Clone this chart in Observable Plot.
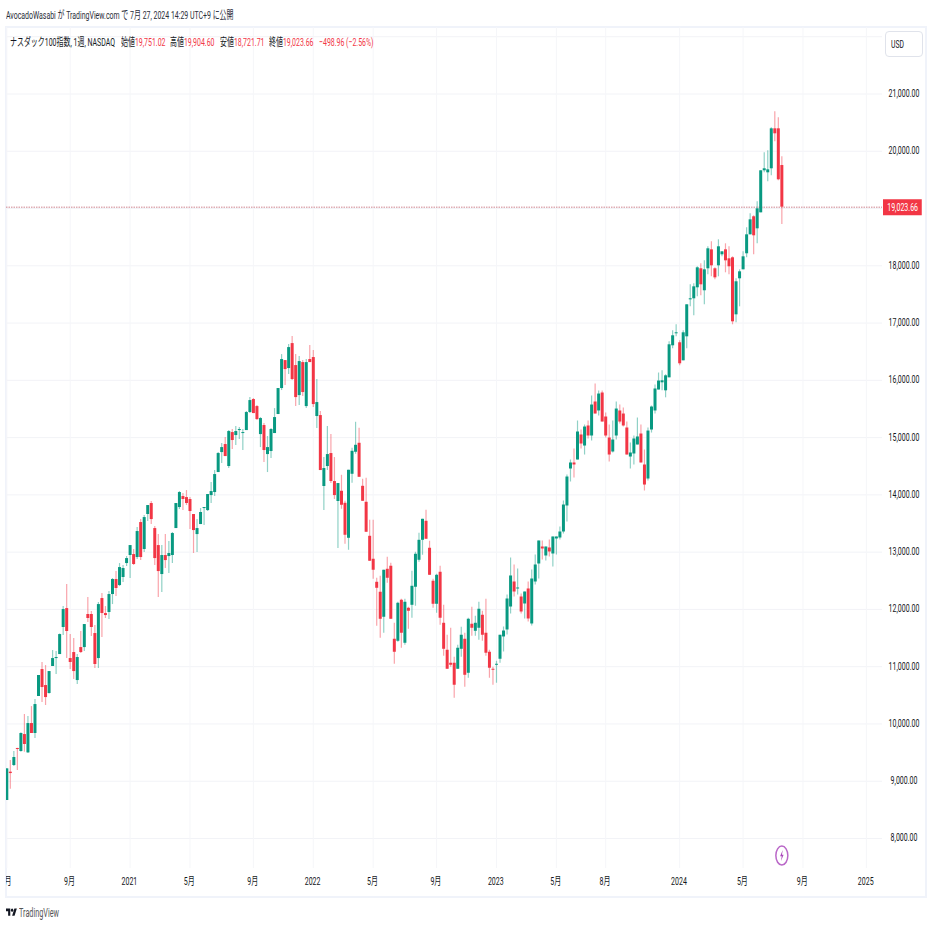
<!DOCTYPE html>
<html lang="ja">
<head>
<meta charset="utf-8">
<script src="https://cdn.jsdelivr.net/npm/d3@7"></script>
<script src="https://cdn.jsdelivr.net/npm/@observablehq/plot@0.6"></script>
<style>
html,body{margin:0;padding:0;background:#fff;width:931px;height:931px;overflow:hidden}
body{position:relative;font-family:Roboto,"Noto Sans CJK JP",sans-serif;color:#131722}
.t{position:absolute;white-space:nowrap;font-family:Roboto,"Noto Sans CJK JP",sans-serif;font-size:11.5px;line-height:14px;transform-origin:0 50%;transform:scaleX(.605)}
#frame{position:absolute;left:5px;top:26px;width:918px;height:868px;border:2px solid #f0f3fa}
#chart{position:absolute;left:6px;top:27px}
#chart svg{display:block;background:transparent}
#usd{position:absolute;left:885px;top:31px;width:36px;height:24px;border:1px solid #e0e3eb;border-radius:4px;background:#fff;font:11px/25px Roboto,sans-serif;color:#131722}
#usd span{display:inline-block;margin-left:5px;transform-origin:0 50%;transform:scaleX(.62)}
.r{color:#f23645}
</style>
</head>
<body>
<div class="t" style="left:6px;top:8px;color:#2a2e39">AvocadoWasabi が TradingView.com で 7月 27, 2024 14:29 UTC+9 に公開</div>
<div id="frame"></div>
<div id="chart"></div>
<div id="usd"><span>USD</span></div>
<div class="t" style="left:10px;top:35px">ナスダック100指数, 1週, NASDAQ</div>
<div class="t" style="left:121px;top:35px">始値<span class="r">19,751.02</span></div>
<div class="t" style="left:170px;top:35px">高値<span class="r">19,904.60</span></div>
<div class="t" style="left:220px;top:35px">安値<span class="r">18,721.71</span></div>
<div class="t" style="left:269px;top:35px">終値<span class="r">19,023.66</span></div>
<div class="t r" style="left:319px;top:35px">−498.96 (−2.56%)</div>
<svg style="position:absolute;left:6px;top:907px" width="11" height="11" viewBox="0 0 36 28" preserveAspectRatio="none"><path d="M14 22H7V11H0V4h14v18zM28 22h-8l7.5-18h8L28 22z" fill="#131722"/><circle cx="20" cy="8" r="4" fill="#131722"/></svg>
<div class="t" style="left:19px;top:906px;color:#555;font-size:12px">TradingView</div>
<script>
const firstWeek = new Date(Date.UTC(2020, 4, 4));
const opens = [
8663,9158,9274,9571,9519,9815,9495,10007,9833,10479,
10950,10671,10531,11003,11142,11212,11684,12015,11142,11247,
10758,11334,11334,11911,11911,11579,11142,12190,11928,11946,
12260,12522,12417,12557,12801,12941,12958,12906,13517,13046,
13657,13849,13412,13115,12609,12941,12923,12941,13412,13779,
13971,13953,13919,13657,13307,13482,13761,13726,13988,14041,
14390,14739,14879,14495,15088,15036,15123,15071,15123,15438,
15665,15542,15053,15211,14704,14757,15071,15403,15857,16345,
16206,16642,16258,15734,16310,15542,16363,16398,15368,15385,
14146,14495,14722,14233,13884,14063,13853,13242,14360,14744,
14901,14150,13871,13277,12876,12474,12300,11863,12701,12754,
11479,11444,12160,11409,12020,12072,12387,12858,13207,13539,
13068,12492,12090,12649,11758,11287,11060,11060,10955,11304,
11479,10885,11741,11618,11671,11898,11584,11252,10955,11025,
11130,11519,11641,12042,12479,12357,12217,12095,12357,11746,
12479,12793,13090,12933,13073,12968,13230,13247,13352,13806,
14452,14557,14609,15046,14853,15203,15028,15622,15465,15779,
15360,14993,14749,15028,15465,15412,15168,14661,14714,14871,
15063,14522,14277,15133,15465,15831,15957,15817,16044,16603,
16813,16656,16341,16760,17406,17424,17616,17948,17564,17948,
18279,17948,18000,18192,18279,18122,18140,17144,17773,17930,
18210,18541,18856,18646,18925,19659,19624,19694,20392,20392,19751.02];
const highs = [
9216,9361,9519,9577,9845,10165,10130,10304,10427,10846,
11073,11020,10915,11282,11265,11573,12050,12434,11561,11492,
11212,11614,11736,12207,11963,11719,12120,12277,12050,12312,
12539,12661,12801,12766,12923,13115,13046,13430,13569,13639,
13814,13884,13447,13307,13115,13307,13185,13342,13849,14058,
14023,14076,13953,13657,13569,13761,13779,14006,14215,14425,
14739,14896,15001,15123,15141,15193,15176,15141,15455,15699,
15682,15560,15350,15245,15019,15158,15507,15857,16450,16345,
16625,16765,16450,16415,16345,16363,16607,16520,16014,15455,
14652,15193,15053,14652,14198,14342,13888,14430,14814,15268,
15163,14273,14290,13557,13557,12544,12579,12684,12911,12806,
11758,12125,12177,12177,12038,12666,12998,13330,13574,13731,
13190,12526,12614,12754,12072,11549,11671,11165,11374,11688,
11584,11846,12038,11881,12125,11968,12177,11287,10990,11095,
11549,11693,12252,12898,12776,12706,12269,12304,12479,12688,
12950,13195,13195,13090,13212,13265,13265,13439,13893,14347,
14609,14801,15290,15133,15220,15290,15726,15936,15814,15814,
15430,15220,15290,15622,15569,15517,15273,14906,15028,15342,
15220,14784,15168,15552,15919,16128,16167,16097,16673,16865,
16970,16690,16865,17319,17668,17686,17983,18035,18087,18332,
18419,17965,18454,18244,18384,18332,18157,17773,17930,18244,
18663,18908,18873,19117,19659,19973,20008,20409,20689,20584,19904.60];
const lows = [
8663,8861,9257,9187,9507,9507,9484,9833,9746,10479,
10374,10322,10525,11003,10863,11212,11544,11142,10950,10776,
10688,11230,11265,11771,11526,10968,10968,11509,11841,11823,
12085,12225,12399,12469,12749,12539,12766,12871,12853,12993,
13534,13482,12766,12207,12295,12714,12626,12801,13412,13744,
13726,13814,13395,12976,12993,13482,13465,13709,13849,13971,
14390,14547,14669,14460,14792,14861,14966,14774,15123,15420,
15420,15298,14826,14565,14390,14634,15071,15403,15822,15909,
16101,15996,15542,15560,15717,15507,16310,15525,15158,14425,
13726,14425,14198,13919,13063,13749,13138,13033,14203,14709,
14307,13888,13347,12841,12526,11706,11496,11584,12457,11828,
11042,11427,11322,11374,11653,11846,12055,12823,12946,13225,
12596,12020,11933,11723,11182,10955,10990,10449,10955,11165,
10641,10798,11531,11531,11461,11444,11182,10798,10676,10711,
11060,11257,11554,11920,12217,12252,11920,11833,11780,11711,
12427,12531,12863,12846,12915,12741,12950,13212,13317,13527,
14225,14295,14609,14801,14696,14976,14941,15412,15377,15272,
14993,14574,14731,14958,15238,15185,14696,14452,14522,14871,
14557,14068,14242,15080,15412,15831,15817,15695,16044,16551,
16760,16254,16341,16551,17284,17127,17459,17476,17319,17843,
17808,17756,17808,18157,17878,17843,16970,17005,17284,17930,
18140,18541,18192,18384,18925,19624,19467,19571,20165,19484,18721.71];
const closes = [
9216,9134,9414,9554,9833,9641,10007,9833,10339,10846,
10636,10461,10915,11142,11160,11561,11998,11614,11073,10915,
11160,11247,11736,11841,11684,11038,12085,11928,11893,12260,
12522,12365,12731,12714,12888,13115,12784,13360,12906,13604,
13814,13569,12888,12661,12941,12853,12976,13325,13849,14041,
13919,13849,13709,13377,13412,13692,13779,14006,14058,14355,
14722,14826,14669,15106,14949,15106,15141,15088,15438,15647,
15420,15315,15333,14774,14826,15141,15350,15857,16363,16188,
16572,16014,15699,16328,15787,16310,16310,15577,15612,14425,
14460,14704,14233,13988,14198,13819,13295,14430,14761,14866,
14307,13888,13347,12841,12684,12369,11828,12684,12544,11828,
11252,12107,11584,12125,11968,12404,12963,13207,13574,13225,
12596,12090,12596,11846,11304,10955,11025,10676,11322,11549,
10850,11828,11671,11758,12003,11549,11235,10973,10938,11042,
11549,11623,12182,12584,12304,12374,11955,12304,11833,12531,
12776,13195,13055,13090,13003,13265,13265,13352,13823,14312,
14557,14522,15098,14888,15185,15028,15569,15412,15761,15272,
15028,14696,14958,15499,15272,15203,14696,14731,14976,15011,
14557,14172,15115,15534,15849,15988,15992,16079,16621,16778,
16830,16289,16830,17319,17424,17633,17965,17668,17930,18297,
18000,17790,18332,18244,18087,17983,17022,17721,17895,18157,
18541,18803,18524,18995,19659,19694,19676,20392,20305,19502,19023.66];

const priceTicks = [8000,9000,10000,11000,12000,13000,14000,15000,16000,17000,18000,19000,20000,21000];
const gridPrices = [...priceTicks, 22000];
const timeTickDates = ["2020-05-04","2020-09-07","2021-01-04","2021-05-03","2021-09-06","2022-01-03","2022-05-02","2022-09-05","2023-01-02","2023-05-01","2023-08-07","2024-01-01","2024-05-06","2024-09-02","2025-01-06"].map(d => new Date(d));
const timeTickLabels = ["5月","9月","2021","5月","9月","2022","5月","9月","2023","5月","8月","2024","5月","9月","2025"];
const lastClose = closes[closes.length - 1];

const UP = "#089981", DOWN = "#f23645";
const candles = opens.map((o, i) => ({date: d3.utcMonday.offset(firstWeek, i), open: o, high: highs[i], low: lows[i], close: closes[i]}));
const isUp = d => d.close >= d.open;
const isDown = d => d.close < d.open;
const labelOf = new Map(timeTickDates.map((d, i) => [+d, timeTickLabels[i]]));

// The reference is squeezed horizontally, so its circled bolt is a tall ellipse.
const ellipseSymbol = {draw(c, size) {
  const ry = Math.sqrt(size / Math.PI), rx = ry * 0.63, k = 0.5523;
  c.moveTo(0, -ry);
  c.bezierCurveTo(k*rx, -ry, rx, -k*ry, rx, 0);
  c.bezierCurveTo(rx, k*ry, k*rx, ry, 0, ry);
  c.bezierCurveTo(-k*rx, ry, -rx, k*ry, -rx, 0);
  c.bezierCurveTo(-rx, -k*ry, -k*rx, -ry, 0, -ry);
  c.closePath();
}};
const bolt = {draw(c, size) {
  const r = Math.sqrt(size / Math.PI) / 10;
  c.moveTo(1.6*r, -10*r); c.lineTo(-3.2*r, 1.2*r); c.lineTo(-0.2*r, 1.2*r);
  c.lineTo(-1.6*r, 10*r); c.lineTo(3.2*r, -1.6*r); c.lineTo(0.2*r, -1.6*r); c.closePath();
}};

const chart = Plot.plot({
  width: 925, height: 867,
  marginLeft: 0, marginRight: 49, marginTop: 0, marginBottom: 26,
  style: {fontFamily: 'Roboto,"Noto Sans CJK JP",sans-serif', fontSize: "11.5px", color: "#131722", background: "transparent"},
  x: {type: "utc", domain: [firstWeek, new Date("2025-02-07")], range: [0.3, 876], label: null},
  y: {type: "linear", domain: [8000, 21000], range: [811, 66.5], label: null},
  marks: [
    Plot.ruleY(gridPrices, {stroke: "#f2f3f7", strokeWidth: 1}),
    Plot.ruleX(timeTickDates, {stroke: "#f5f6f9", strokeWidth: 1}),
    Plot.axisY(priceTicks, {anchor: "right", tickSize: 0, tickPadding: 10, textAnchor: "middle", dx: 11.5, dy: -0.7, label: null, tickFormat: d3.format(",.2f"), fill: "#131722", fontSize: 11.5}),
    Plot.axisX(timeTickDates, {anchor: "bottom", tickSize: 0, tickPadding: 8, dx: -0.7, label: null, tickFormat: d => labelOf.get(+d), fill: "#131722", fontSize: 11.5}),
    Plot.ruleY([lastClose], {stroke: "#cf8690", strokeWidth: 1, strokeDasharray: "1.5,1"}),
    Plot.ruleX(candles, {filter: isUp, x: "date", y1: "low", y2: "high", stroke: UP, strokeOpacity: 0.45, strokeWidth: 1.2}),
    Plot.ruleX(candles, {filter: isDown, x: "date", y1: "low", y2: "high", stroke: DOWN, strokeOpacity: 0.45, strokeWidth: 1.2}),
    Plot.ruleX(candles, {filter: isUp, x: "date", y1: "open", y2: "close", stroke: UP, strokeWidth: 3}),
    Plot.ruleX(candles, {filter: isDown, x: "date", y1: "open", y2: "close", stroke: DOWN, strokeWidth: 3}),
    Plot.ruleY([lastClose], {x1: new Date("2025-02-09"), x2: new Date("2025-04-27"), stroke: DOWN, strokeWidth: 16}),
    Plot.text([lastClose], {x: new Date("2025-03-19"), y: d => d, text: d => d3.format(",.2f")(d), fill: "#fff", fontSize: 11.5}),
    Plot.dot([candles[candles.length - 1]], {x: "date", y: () => 7703, r: 9.5, symbol: ellipseSymbol, fill: "#fff", stroke: "#ba68c8", strokeWidth: 1.5}),
    Plot.dot([candles[candles.length - 1]], {x: "date", y: () => 7703, r: 5.5, symbol: bolt, fill: "#ab47bc", stroke: "none"})
  ]
});
document.getElementById("chart").appendChild(chart);
// Same horizontal squeeze as the reference for the chart's real text.
chart.querySelectorAll("text").forEach(t => {
  const tr = t.getAttribute("transform");
  if (tr) t.setAttribute("transform", tr + " scale(.61,1)");
});
</script>
</body>
</html>
